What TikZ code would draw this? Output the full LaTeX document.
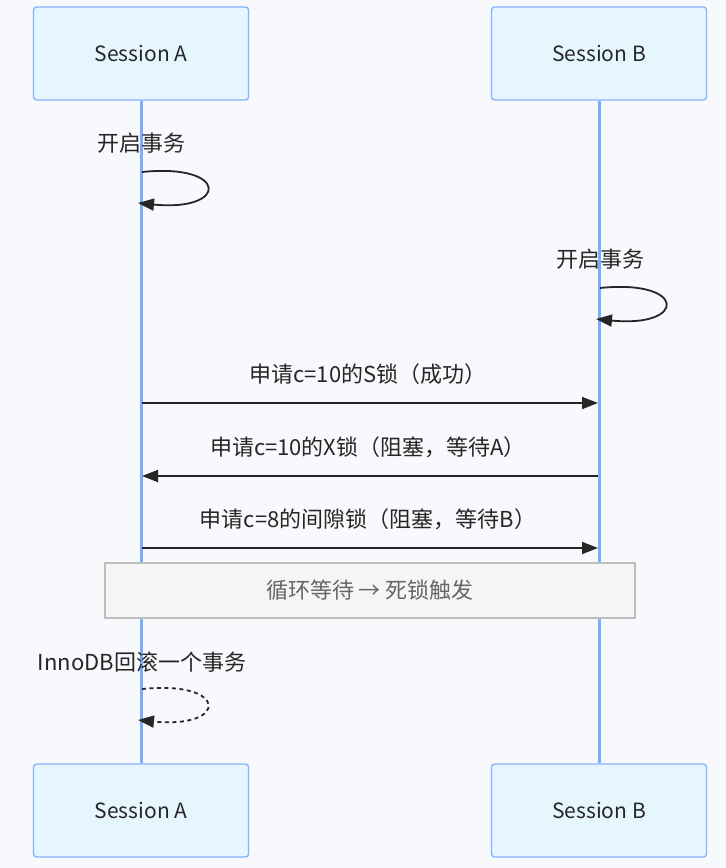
\documentclass[tikz,border=0pt]{standalone}
\usepackage{fontspec}
\setmainfont{Noto Sans CJK SC}
\usetikzlibrary{arrows.meta}
\definecolor{bgc}{HTML}{F8F9FC}
\definecolor{actfill}{HTML}{E6F6FF}
\definecolor{actline}{HTML}{84B3FF}
\definecolor{lifec}{HTML}{7AACFF}
\definecolor{txt}{HTML}{262626}
\definecolor{notefill}{HTML}{F5F5F5}
\definecolor{noteline}{HTML}{BDBDBD}
\definecolor{notetxt}{HTML}{666666}
\tikzset{
  actor/.style={draw=actline, fill=actfill, line width=1.3pt, rounded corners=3pt,
    minimum width=215pt, minimum height=93pt, inner sep=0pt, text=txt, font=\fontsize{21}{25}\selectfont},
  lifeline/.style={draw=lifec, line width=3pt},
  msg/.style={draw=txt, line width=1.8pt, -{Triangle[length=16pt,width=12pt]}},
  msgtxt/.style={text=txt, font=\fontsize{22}{26}\selectfont, inner sep=0pt},
  notebox/.style={draw=noteline, fill=notefill, line width=1.2pt, minimum width=530pt,
    minimum height=55pt, inner sep=0pt, text=notetxt, font=\fontsize{22}{26}\selectfont},
}
\begin{document}
\begin{tikzpicture}[x=1pt,y=-1pt]
\useasboundingbox (0,0) rectangle (726,868);
\fill[bgc] (0,0) rectangle (726,868);
% actors
\node[actor] (At) at (141,53.5) {Session A};
\node[actor] (Bt) at (599,53.5) {Session B};
\node[actor] (Ab) at (141,810.5) {Session A};
\node[actor] (Bb) at (599,810.5) {Session B};
% lifelines
\draw[lifeline] (At.south) -- (Ab.north);
\draw[lifeline] (Bt.south) -- (Bb.north);
% self loop A
\node[msgtxt] (l1) at (141,143) {开启事务};
\coordinate (a1s) at (142,172);
\coordinate (a1e) at (138,203);
\draw[msg] (a1s) .. controls (229,163) and (229,212) .. (a1e);
% self loop B
\node[msgtxt] (l2) at (600,259) {开启事务};
\coordinate (b1s) at (600,288);
\coordinate (b1e) at (596,319);
\draw[msg] (b1s) .. controls (687,279) and (687,328) .. (b1e);
% messages
\node[msgtxt] (m1) at (368,374) {申请c=10的S锁（成功）};
\coordinate (m1a) at (142,403);
\coordinate (m1b) at (598,403);
\draw[msg] (m1a) -- (m1b);
\node[msgtxt] (m2) at (368,447) {申请c=10的X锁（阻塞，等待A）};
\coordinate (m2a) at (598,476);
\coordinate (m2b) at (142,476);
\draw[msg] (m2a) -- (m2b);
\node[msgtxt] (m3) at (368,519) {申请c=8的间隙锁（阻塞，等待B）};
\coordinate (m3a) at (142,548);
\coordinate (m3b) at (598,548);
\draw[msg] (m3a) -- (m3b);
% note
\node[notebox] (note) at (370,590.5) {循环等待 → 死锁触发};
% rollback
\node[msgtxt] (l3) at (142,662) {InnoDB回滚一个事务};
\coordinate (r1s) at (142,689);
\coordinate (r1e) at (138,720);
\draw[msg, dash pattern=on 4pt off 3.5pt] (r1s) .. controls (229,680) and (229,729) .. (r1e);
\end{tikzpicture}
\end{document}
